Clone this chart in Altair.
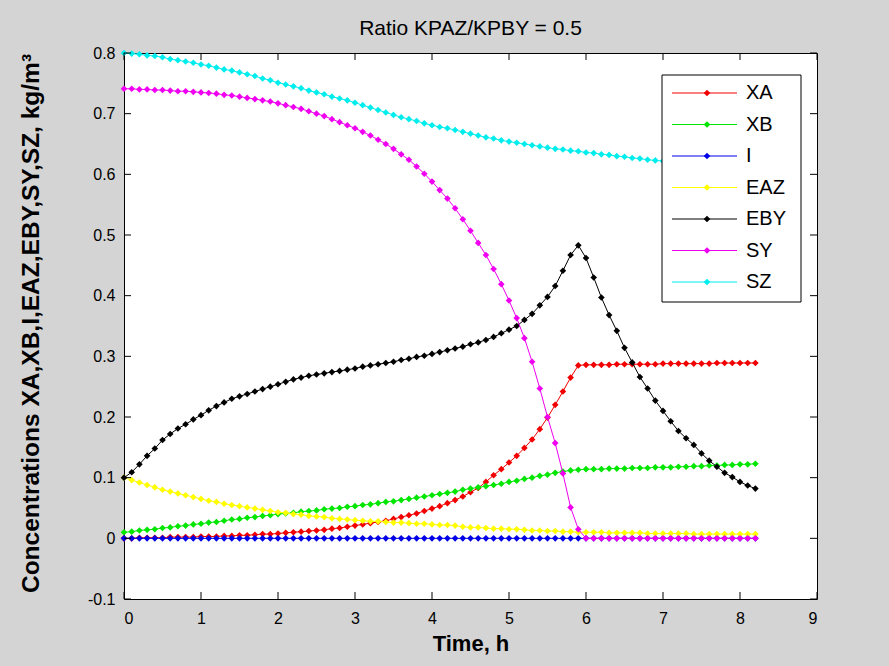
import altair as alt
import pandas as pd

# ---------------- data ----------------
T = [0.0, 0.1, 0.2, 0.3, 0.4, 0.5, 0.6, 0.7, 0.8, 0.9,
     1.0, 1.1, 1.2, 1.3, 1.4, 1.5, 1.6, 1.7, 1.8, 1.9,
     2.0, 2.1, 2.2, 2.3, 2.4, 2.5, 2.6, 2.7, 2.8, 2.9,
     3.0, 3.1, 3.2, 3.3, 3.4, 3.5, 3.6, 3.7, 3.8, 3.9,
     4.0, 4.1, 4.2, 4.3, 4.4, 4.5, 4.6, 4.7, 4.8, 4.9,
     5.0, 5.1, 5.2, 5.3, 5.4, 5.5, 5.6, 5.7, 5.8, 5.9,
     6.0, 6.1, 6.2, 6.3, 6.4, 6.5, 6.6, 6.7, 6.8, 6.9,
     7.0, 7.1, 7.2, 7.3, 7.4, 7.5, 7.6, 7.7, 7.8, 7.9,
     8.0, 8.1, 8.2]

XA = [0.000, 0.000, 0.001, 0.001, 0.001, 0.001, 0.002, 0.002, 0.002, 0.002,
      0.003, 0.003, 0.003, 0.004, 0.004, 0.005, 0.005, 0.006, 0.007, 0.007,
      0.008, 0.009, 0.010, 0.011, 0.012, 0.013, 0.014, 0.016, 0.017, 0.019,
      0.021, 0.023, 0.025, 0.027, 0.029, 0.032, 0.035, 0.038, 0.041, 0.045,
      0.049, 0.053, 0.058, 0.063, 0.069, 0.076, 0.083, 0.093, 0.104, 0.114,
      0.125, 0.136, 0.149, 0.163, 0.180, 0.199, 0.220, 0.242, 0.265, 0.285,
      0.286, 0.286, 0.286, 0.286, 0.287, 0.287, 0.287, 0.287, 0.287, 0.287,
      0.288, 0.288, 0.288, 0.288, 0.288, 0.288, 0.288, 0.289, 0.289, 0.289,
      0.289, 0.289, 0.289]

XB = [0.010, 0.011, 0.013, 0.014, 0.015, 0.017, 0.018, 0.020, 0.021, 0.023,
      0.024, 0.026, 0.027, 0.029, 0.031, 0.032, 0.034, 0.035, 0.037, 0.038,
      0.040, 0.041, 0.042, 0.044, 0.045, 0.046, 0.048, 0.049, 0.050, 0.052,
      0.053, 0.055, 0.056, 0.058, 0.060, 0.061, 0.063, 0.065, 0.067, 0.069,
      0.071, 0.073, 0.075, 0.077, 0.080, 0.082, 0.084, 0.086, 0.088, 0.090,
      0.093, 0.095, 0.098, 0.100, 0.103, 0.105, 0.108, 0.110, 0.112, 0.113,
      0.114, 0.114, 0.114, 0.115, 0.115, 0.115, 0.116, 0.116, 0.116, 0.117,
      0.117, 0.117, 0.118, 0.118, 0.119, 0.119, 0.120, 0.120, 0.121, 0.121,
      0.122, 0.122, 0.123]

I_ = [0.000, 0.000, 0.000, 0.000, 0.000, 0.000, 0.000, 0.000, 0.000, 0.000,
      0.000, 0.000, 0.000, 0.000, 0.000, 0.000, 0.000, 0.000, 0.000, 0.000,
      0.000, 0.000, 0.000, 0.000, 0.000, 0.000, 0.000, 0.000, 0.000, 0.000,
      0.000, 0.000, 0.000, 0.000, 0.000, 0.000, 0.000, 0.000, 0.000, 0.000,
      0.000, 0.000, 0.000, 0.000, 0.000, 0.000, 0.000, 0.000, 0.000, 0.000,
      0.000, 0.000, 0.000, 0.000, 0.000, 0.000, 0.000, 0.000, 0.000, 0.000,
      0.000, 0.000, 0.000, 0.000, 0.000, 0.000, 0.000, 0.000, 0.000, 0.000,
      0.000, 0.000, 0.000, 0.000, 0.000, 0.000, 0.000, 0.000, 0.000, 0.000,
      0.000, 0.000, 0.000]

EAZ = [0.100, 0.096, 0.092, 0.088, 0.084, 0.080, 0.077, 0.074, 0.071, 0.068,
       0.065, 0.062, 0.060, 0.057, 0.055, 0.053, 0.051, 0.049, 0.047, 0.045,
       0.043, 0.042, 0.040, 0.039, 0.037, 0.036, 0.035, 0.033, 0.032, 0.031,
       0.030, 0.029, 0.028, 0.028, 0.027, 0.026, 0.026, 0.025, 0.024, 0.024,
       0.023, 0.022, 0.022, 0.021, 0.019, 0.018, 0.018, 0.017, 0.016, 0.016,
       0.015, 0.015, 0.014, 0.013, 0.013, 0.012, 0.012, 0.011, 0.011, 0.010,
       0.010, 0.010, 0.010, 0.009, 0.009, 0.009, 0.009, 0.009, 0.008, 0.008,
       0.008, 0.008, 0.008, 0.008, 0.007, 0.007, 0.007, 0.007, 0.007, 0.007,
       0.007, 0.007, 0.007]

EBY = [0.100, 0.109, 0.122, 0.136, 0.148, 0.162, 0.172, 0.181, 0.188, 0.196,
       0.203, 0.211, 0.218, 0.224, 0.230, 0.234, 0.238, 0.242, 0.246, 0.250,
       0.254, 0.258, 0.262, 0.265, 0.268, 0.270, 0.272, 0.274, 0.276, 0.278,
       0.280, 0.283, 0.285, 0.287, 0.289, 0.291, 0.294, 0.296, 0.299, 0.301,
       0.304, 0.307, 0.310, 0.313, 0.316, 0.320, 0.323, 0.327, 0.332, 0.338,
       0.344, 0.350, 0.360, 0.370, 0.384, 0.398, 0.416, 0.441, 0.467, 0.483,
       0.462, 0.430, 0.397, 0.368, 0.342, 0.314, 0.290, 0.266, 0.247, 0.227,
       0.210, 0.193, 0.177, 0.165, 0.154, 0.140, 0.128, 0.118, 0.108, 0.101,
       0.093, 0.087, 0.082]

SY = [0.741, 0.741, 0.740, 0.740, 0.739, 0.739, 0.738, 0.737, 0.737, 0.736,
      0.735, 0.734, 0.733, 0.731, 0.730, 0.728, 0.726, 0.724, 0.722, 0.720,
      0.717, 0.714, 0.711, 0.708, 0.704, 0.700, 0.696, 0.691, 0.686, 0.681,
      0.676, 0.670, 0.664, 0.657, 0.650, 0.642, 0.633, 0.624, 0.613, 0.601,
      0.588, 0.574, 0.560, 0.544, 0.526, 0.507, 0.487, 0.467, 0.444, 0.419,
      0.392, 0.363, 0.330, 0.291, 0.247, 0.200, 0.157, 0.107, 0.051, 0.015,
      0.000, 0.000, 0.000, 0.000, 0.000, 0.000, 0.000, 0.000, 0.000, 0.000,
      0.000, 0.000, 0.000, 0.000, 0.000, 0.000, 0.000, 0.000, 0.000, 0.000,
      0.000, 0.000, 0.000]

SZ = [0.800, 0.799, 0.798, 0.796, 0.795, 0.793, 0.790, 0.788, 0.786, 0.784,
      0.781, 0.779, 0.776, 0.773, 0.771, 0.768, 0.765, 0.762, 0.758, 0.755,
      0.751, 0.748, 0.745, 0.742, 0.738, 0.735, 0.732, 0.728, 0.725, 0.722,
      0.718, 0.714, 0.710, 0.706, 0.702, 0.698, 0.694, 0.691, 0.688, 0.684,
      0.681, 0.678, 0.676, 0.673, 0.670, 0.667, 0.664, 0.661, 0.659, 0.656,
      0.654, 0.652, 0.650, 0.648, 0.646, 0.644, 0.642, 0.641, 0.639, 0.638,
      0.636, 0.635, 0.633, 0.632, 0.630, 0.629, 0.627, 0.626, 0.624, 0.623,
      0.622, 0.620, 0.619, 0.618, 0.617, 0.616, 0.615, 0.614, 0.613, 0.612,
      0.611, 0.610, 0.609]

NAMES = ["XA", "XB", "I", "EAZ", "EBY", "SY", "SZ"]
SERIES = [XA, XB, I_, EAZ, EBY, SY, SZ]
COLORS = ["#f20000", "#00e600", "#0000e6", "#ffff00", "#000000", "#f000f0", "#00eded"]
X_TICKS = [0, 1, 2, 3, 4, 5, 6, 7, 8, 9]
Y_TICKS = [-0.1, 0, 0.1, 0.2, 0.3, 0.4, 0.5, 0.6, 0.7, 0.8]

TITLE = "Ratio KPAZ/KPBY = 0.5"
X_TITLE = "Time, h"
Y_TITLE = "Concentrations XA,XB,I,EAZ,EBY,SY,SZ, kg/m\u00b3"

# ---------------- build ----------------
rows = []
for name, vals in zip(NAMES, SERIES):
    for t, v in zip(T, vals):
        rows.append({"t": t, "v": v, "series": name})
df = pd.DataFrame(rows)

FONT = "Liberation Sans, Arial, Helvetica, sans-serif"
W, H = 693, 546
TK = 7  # inward tick length
MSIZE = 44

xs = alt.Scale(domain=[0, 9], nice=False, zero=False)
ys = alt.Scale(domain=[-0.1, 0.8], nice=False, zero=False)
col = alt.Color("series:N", scale=alt.Scale(domain=NAMES, range=COLORS), legend=None)

X_AX = alt.Axis(values=X_TICKS, labelExpr="'' + datum.value", grid=False,
                ticks=False, tickSize=0, domain=False, labelPadding=11,
                labelFont=FONT, labelFontSize=16, labelColor="black",
                title=X_TITLE, titleFont=FONT, titleFontSize=22,
                titleFontWeight="bold", titleColor="black",
                titleBaseline="alphabetic", titleY=51)
Y_AX = alt.Axis(values=Y_TICKS, labelExpr="'' + datum.value", grid=False,
                ticks=False, tickSize=0, domain=False, labelPadding=9,
                labelFont=FONT, labelFontSize=16, labelColor="black",
                title=Y_TITLE, titleFont=FONT, titleFontSize=24.5,
                titleFontWeight="bold", titleColor="black",
                titleAngle=270, titleAlign="center", titleBaseline="alphabetic",
                titleX=-86, titleY=H / 2 - 3)

layers = []
for name in NAMES:
    layers.append(
        alt.Chart(df).transform_filter(alt.datum.series == name)
        .mark_line(strokeWidth=1,
                   point=alt.OverlayMarkDef(shape="diamond", filled=True, size=MSIZE, opacity=1))
        .encode(x=alt.X("t:Q", scale=xs, axis=X_AX, title=X_TITLE),
                y=alt.Y("v:Q", scale=ys, axis=Y_AX, title=Y_TITLE),
                color=col)
    )

xt = pd.DataFrame({"v": X_TICKS})
yt = pd.DataFrame({"v": Y_TICKS})
tick_x = alt.X("v:Q", scale=xs, axis=X_AX, title=X_TITLE)
tick_y = alt.Y("v:Q", scale=ys, axis=Y_AX, title=Y_TITLE)
ticks = [
    alt.Chart(xt).mark_rule(color="black", strokeWidth=1).encode(
        x=tick_x, y=alt.value(H), y2=alt.value(H - TK)),
    alt.Chart(xt).mark_rule(color="black", strokeWidth=1).encode(
        x=tick_x, y=alt.value(0), y2=alt.value(TK)),
    alt.Chart(yt).mark_rule(color="black", strokeWidth=1).encode(
        y=tick_y, x=alt.value(0), x2=alt.value(TK)),
    alt.Chart(yt).mark_rule(color="black", strokeWidth=1).encode(
        y=tick_y, x=alt.value(W), x2=alt.value(W - TK)),
]

main = alt.layer(*layers, *ticks)

# legend (its own row scale) and the chart title as a text mark above the axes
leg_df = pd.DataFrame({"series": NAMES})
row_y = alt.Y("series:N", scale=alt.Scale(type="point", domain=NAMES, range=[40, 229], padding=0),
              axis=None)
box = alt.Chart(pd.DataFrame({"k": [0]})).mark_rect(
    fill="white", stroke="black", strokeWidth=1).encode(
    x=alt.value(538), x2=alt.value(677), y=alt.value(22), y2=alt.value(249))
leg_line = alt.Chart(leg_df).mark_rule(strokeWidth=1).encode(
    x=alt.value(548), x2=alt.value(613), y=row_y, color=col)
leg_pt = alt.Chart(leg_df).mark_point(shape="diamond", filled=True, size=MSIZE, opacity=1).encode(
    x=alt.value(583), y=row_y, color=col)
leg_txt = alt.Chart(leg_df).mark_text(align="left", baseline="middle", font=FONT,
                                       fontSize=20, color="black").encode(
    x=alt.value(622), y=row_y, text="series:N")
title_txt = alt.Chart(pd.DataFrame({"k": [0]})).mark_text(
    align="center", baseline="alphabetic", font=FONT, fontSize=21, color="black").encode(
    x=alt.value(W / 2), y=alt.value(-18), text=alt.value(TITLE))
legend = alt.layer(box, leg_line, leg_pt, leg_txt, title_txt)

chart = alt.layer(main, legend).resolve_scale(y="independent").properties(
    width=W, height=H,
    padding={"left": 124, "top": 53, "right": 72, "bottom": 67},
    autosize=alt.AutoSizeParams(type="none"),
    background="#d4d4d4",
).configure_view(fill="white", stroke="black", strokeWidth=1)

chart.save("out.html", embed_options={"renderer": "svg", "actions": False})
